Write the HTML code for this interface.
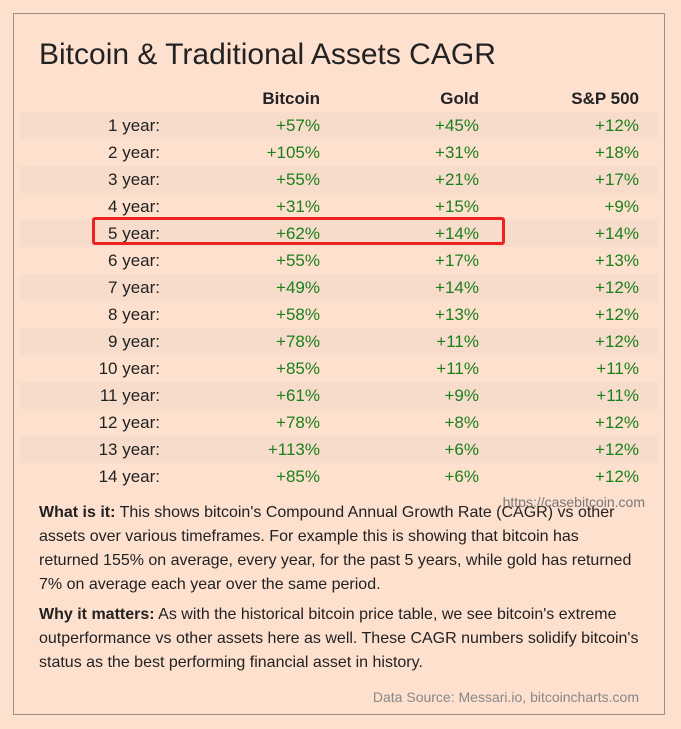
<!DOCTYPE html>
<html><head><meta charset="utf-8"><style>
*{margin:0;padding:0;box-sizing:border-box}
body{width:681px;height:729px;background:#fee0cf;font-family:"Liberation Sans",Arial,sans-serif;position:relative;overflow:hidden;color:#222}
.box{position:absolute;left:13px;top:13px;width:652px;height:702px;border:1px solid #a08c80}
.t{position:absolute;left:39px;top:38px;font-size:30px;color:#222;white-space:nowrap}
.row{position:absolute;left:20px;width:638px;height:27px}
.s{background:#f7dccc}
.c{position:absolute;top:4px;font-size:17px;text-align:right;white-space:nowrap}
.l{right:498px;color:#222}
.b{right:338px;color:#1a801a}
.g{right:179px;color:#1a801a}
.p{right:19px;color:#1a801a}
.h .c{font-weight:bold;color:#222}
.red{position:absolute;left:92px;top:217px;width:413px;height:28px;border:3px solid #ee2222;border-radius:3px}
.para{position:absolute;left:39px;width:605px;font-size:16px;line-height:24px;color:#222}
.url{position:absolute;right:36px;top:494px;font-size:14px;color:#777}
.src{position:absolute;right:42px;top:689px;font-size:14px;color:#888}
</style></head><body>
<div class="box"></div>
<div class="t">Bitcoin &amp; Traditional Assets CAGR</div>
<div class="row h" style="top:85px"><span class="c b">Bitcoin</span><span class="c g">Gold</span><span class="c p">S&amp;P 500</span></div>
<div class="row s" style="top:112px"><span class="c l">1 year:</span><span class="c b">+57%</span><span class="c g">+45%</span><span class="c p">+12%</span></div>
<div class="row" style="top:139px"><span class="c l">2 year:</span><span class="c b">+105%</span><span class="c g">+31%</span><span class="c p">+18%</span></div>
<div class="row s" style="top:166px"><span class="c l">3 year:</span><span class="c b">+55%</span><span class="c g">+21%</span><span class="c p">+17%</span></div>
<div class="row" style="top:193px"><span class="c l">4 year:</span><span class="c b">+31%</span><span class="c g">+15%</span><span class="c p">+9%</span></div>
<div class="row s" style="top:220px"><span class="c l">5 year:</span><span class="c b">+62%</span><span class="c g">+14%</span><span class="c p">+14%</span></div>
<div class="row" style="top:247px"><span class="c l">6 year:</span><span class="c b">+55%</span><span class="c g">+17%</span><span class="c p">+13%</span></div>
<div class="row s" style="top:274px"><span class="c l">7 year:</span><span class="c b">+49%</span><span class="c g">+14%</span><span class="c p">+12%</span></div>
<div class="row" style="top:301px"><span class="c l">8 year:</span><span class="c b">+58%</span><span class="c g">+13%</span><span class="c p">+12%</span></div>
<div class="row s" style="top:328px"><span class="c l">9 year:</span><span class="c b">+78%</span><span class="c g">+11%</span><span class="c p">+12%</span></div>
<div class="row" style="top:355px"><span class="c l">10 year:</span><span class="c b">+85%</span><span class="c g">+11%</span><span class="c p">+11%</span></div>
<div class="row s" style="top:382px"><span class="c l">11 year:</span><span class="c b">+61%</span><span class="c g">+9%</span><span class="c p">+11%</span></div>
<div class="row" style="top:409px"><span class="c l">12 year:</span><span class="c b">+78%</span><span class="c g">+8%</span><span class="c p">+12%</span></div>
<div class="row s" style="top:436px"><span class="c l">13 year:</span><span class="c b">+113%</span><span class="c g">+6%</span><span class="c p">+12%</span></div>
<div class="row" style="top:463px"><span class="c l">14 year:</span><span class="c b">+85%</span><span class="c g">+6%</span><span class="c p">+12%</span></div>
<div class="red"></div>
<div class="para" style="top:501px"><b>What is it:</b> This shows bitcoin's Compound Annual Growth Rate (CAGR) vs other assets over various timeframes. For example this is showing that bitcoin has<br>returned 155% on average, every year, for the past 5 years, while gold has returned 7% on average each year over the same period.</div>
<div class="url">https://casebitcoin.com</div>
<div class="para" style="top:603px"><b>Why it matters:</b> As with the historical bitcoin price table, we see bitcoin's extreme outperformance vs other assets here as well. These CAGR numbers solidify bitcoin's status as the best performing financial asset in history.</div>
<div class="src">Data Source: Messari.io, bitcoincharts.com</div>
</body></html>
